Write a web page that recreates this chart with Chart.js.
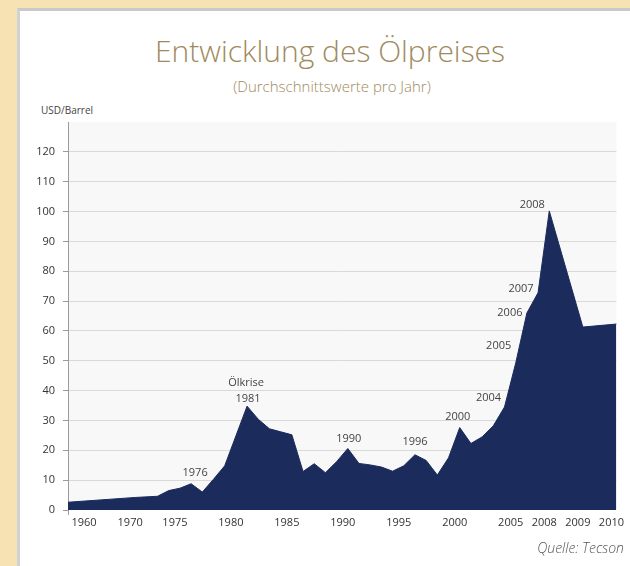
<!DOCTYPE html>
<html>
<head>
<meta charset="utf-8">
<script src="https://cdn.jsdelivr.net/npm/chart.js@4/dist/chart.umd.min.js"></script>
<style>
  html, body { margin: 0; padding: 0; }
  body {
    width: 630px;
    height: 566px;
    background: #f6e2b3;
    position: relative;
    overflow: hidden;
    font-family: "Open Sans", sans-serif;
  }
  #panel {
    position: absolute;
    left: 17px;
    top: 8px;
    width: 613px;
    height: 558px;
    box-sizing: border-box;
    background: #fff;
    border-left: 3px solid #cfd3d6;
    border-top: 3px solid #c9c9c9;
  }
  #title {
    position: absolute;
    left: 30px;
    width: 600px;
    top: 31px;
    text-align: center;
    font-size: 30px;
    font-weight: 300;
    color: #a08a5c;
    line-height: 40px;
  }
  #subtitle {
    position: absolute;
    left: 32px;
    width: 600px;
    top: 76px;
    text-align: center;
    font-size: 15px;
    font-weight: 300;
    color: #a08a5c;
    line-height: 20px;
  }
  #unit {
    position: absolute;
    left: 41px;
    top: 102px;
    font-size: 10px;
    color: #444;
    line-height: 16px;
  }
  #source {
    position: absolute;
    right: 6px;
    top: 538px;
    font-size: 14px;
    font-style: italic;
    font-weight: 300;
    color: #555;
    line-height: 20px;
  }
  #wrap {
    position: absolute;
    left: 0;
    top: 0;
    width: 630px;
    height: 566px;
  }
</style>
</head>
<body>
<div id="panel"></div>
<div id="title">Entwicklung des Ölpreises</div>
<div id="subtitle">(Durchschnittswerte pro Jahr)</div>
<div id="unit">USD/Barrel</div>
<div id="wrap"><canvas id="oilChart" width="630" height="566"></canvas></div>
<div id="source">Quelle: Tecson</div>

<script>
// =============== DATA ===============

// x slots (the axis is not to scale: the 60s are squeezed, 2008-2010 stretched)
const slots = [
  "1960", "", "", "", "", "", "1970", "", "1973",
  "1974", "1975", "1976", "1977", "1978", "1979", "1980", "1981", "1982",
  "1983", "1984", "1985", "1986", "1987", "1988", "1989", "1990", "1991",
  "1992", "1993", "1994", "1995", "1996", "1997", "1998", "1999", "2000",
  "2001", "2002", "2003", "2004", "2005", "2006", "2007", "2008",
  "", "", "2009", "", "", "2010",
];

// USD per barrel, yearly average (null = no value, line is spanned)
const price = [
  2.6, null, null, null, null, null, 4.2, null, 4.6,
  6.5, 7.3, 8.8, 6.0, 10.3, 14.8, 24.8, 34.8, 30.4,
  27.2, 26.2, 25.2, 12.9, 15.5, 12.5, 16.2, 20.6, 15.6,
  15.1, 14.4, 13.0, 14.8, 18.5, 16.6, 11.7, 17.5, 27.6,
  22.3, 24.5, 28.2, 34.5, 49.2, 66.0, 72.8, 100.2,
  null, null, 61.3, null, null, 62.3,
];

// labels printed under the x axis
const xTicks = ["1960", "1970", "1975", "1980", "1985", "1990", "1995", "2000", "2005", "2008", "2009", "2010"];

// years that get a text note above the curve
const noteYears = ["1976", "1981", "1990", "1996", "2000", "2004", "2005", "2006", "2007", "2008"];

// note placement relative to the data point (px)
const notePos = {
  "1976": [4, -11],
  "1981": [1, -7],
  "1990": [1, -10],
  "1996": [0, -13],
  "2000": [-2, -11],
  "2004": [-16, -9],
  "2005": [-17, -17],
  "2006": [-17, 0],
  "2007": [-17, -4],
  "2008": [-17, -6],
};

const AXIS_GREY = "#9a9a9a";
const GRID_GREY = "#d9d9d9";
const NAVY = "#1b2b5b";


// =============== PLUGINS ===============

const plotBackground = {
  id: "plotBackground",
  beforeDraw(chart) {
    const { ctx, chartArea: a } = chart;
    ctx.save();
    ctx.fillStyle = "#f8f8f8";
    ctx.fillRect(a.left, a.top, a.right - a.left, a.bottom - a.top);
    ctx.restore();
  },
};

// the first year label sits clear of the y axis, as in the print
const firstTickShift = {
  id: "firstTickShift",
  beforeDraw(chart) {
    const items = chart.scales.x.getLabelItems();
    if (items.length) items[0].options.translation[0] += 21;
  },
};

const yearNotes = {
  id: "yearNotes",
  afterDatasetsDraw(chart) {
    const ctx = chart.ctx;
    const meta = chart.getDatasetMeta(0);
    ctx.save();
    ctx.font = "11px 'Open Sans'";
    ctx.fillStyle = "#444";
    ctx.textAlign = "center";
    ctx.textBaseline = "middle";
    noteYears.forEach((year) => {
      const idx = slots.indexOf(year);
      const pt = meta.data[idx];
      const [dx, dy] = notePos[year];
      ctx.fillText(year, pt.x + dx, pt.y + dy);
      if (year === "1981") {
        ctx.fillText("Ölkrise", pt.x + dx - 2, pt.y + dy - 16);
      }
    });
    ctx.restore();
  },
};


// =============== CHART ===============

function loadOilChart() {
  const ctx = document.getElementById("oilChart");
  if (!ctx) return;

  new Chart(ctx, {
    type: "line",
    data: {
      labels: slots,
      datasets: [
        {
          label: "Ölpreis",
          data: price,
          fill: "origin",
          backgroundColor: NAVY,
          borderColor: NAVY,
          borderWidth: 1,
          pointRadius: 0,
          tension: 0,
          spanGaps: true,
        },
      ],
    },
    options: {
      responsive: false,
      devicePixelRatio: 1,
      animation: false,
      layout: {
        padding: { left: 20, right: 11, top: 122, bottom: 26 },
      },
      plugins: {
        legend: { display: false },
        tooltip: { enabled: false },
      },
      scales: {
        x: {
          afterFit: (scale) => { scale.height = 30; },
          border: { display: false },
          grid: {
            drawOnChartArea: false,
            tickLength: 5,
            tickColor: (c) => (c.index === 0 ? AXIS_GREY : "transparent"),
          },
          ticks: {
            autoSkip: false,
            maxRotation: 0,
            padding: 1,
            labelOffset: -5,
            color: "#333",
            font: { family: "'Open Sans'", size: 11 },
            callback: (v, i) => (xTicks.includes(slots[i]) ? slots[i] : ""),
          },
        },
        y: {
          min: 0,
          max: 130,
          afterFit: (scale) => { scale.width = 48; },
          border: { color: AXIS_GREY, width: 1 },
          grid: {
            tickLength: 5,
            color: (c) => {
              const v = c.tick.value;
              return v % 10 === 0 && v > 0 && v <= 120 ? GRID_GREY : "transparent";
            },
            tickColor: (c) => (c.tick.value <= 120 ? AXIS_GREY : "transparent"),
          },
          ticks: {
            stepSize: 5,
            padding: 8,
            color: "#333",
            font: { family: "'Open Sans'", size: 11 },
            callback: (v) => (v % 10 === 0 && v <= 120 ? v : ""),
          },
        },
      },
    },
    plugins: [plotBackground, firstTickShift, yearNotes],
  });
}


// =============== INIT ===============

document.addEventListener("DOMContentLoaded", () => {
  loadOilChart();
});
</script>
</body>
</html>
